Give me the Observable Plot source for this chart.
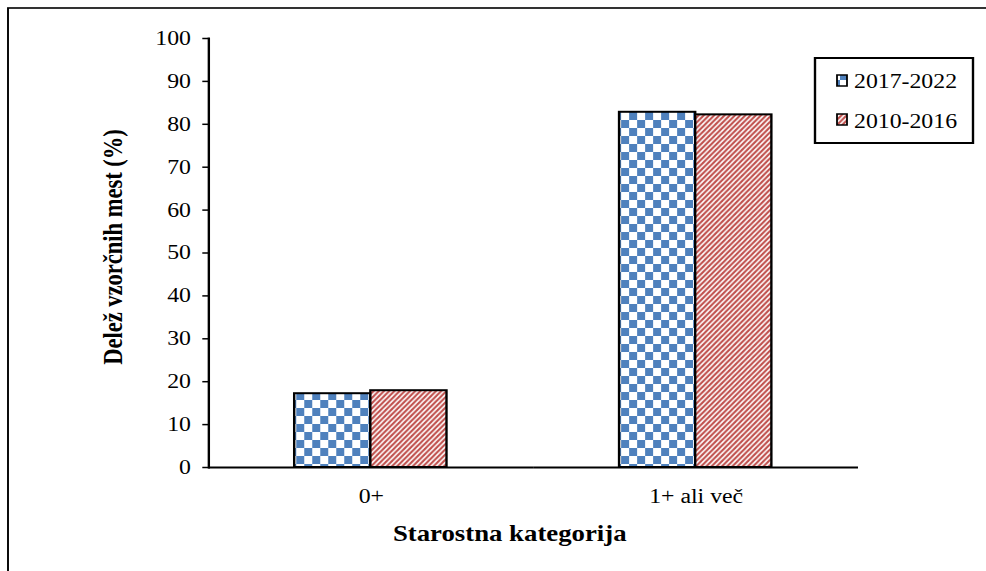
<!DOCTYPE html>
<html><head><meta charset="utf-8">
<script src="https://cdn.jsdelivr.net/npm/d3@7"></script>
<script src="https://cdn.jsdelivr.net/npm/@observablehq/plot@0.6"></script>
<style>
body{margin:0;background:#fff;}
#chart{width:986px;height:571px;overflow:hidden;background:#fff;}
</style></head><body><div id="chart"></div>
<script>
const categories = ["0+", "1+ ali več"];
const series = ["2017-2022", "2010-2016"];
const share2017_2022 = [17.2, 82.8];
const share2010_2016 = [17.9, 82.2];
const yTicks = [0, 10, 20, 30, 40, 50, 60, 70, 80, 90, 100];
const yLabel = "Delež vzorčnih mest (%)";
const xLabel = "Starostna kategorija";

const S = 1.19;           // horizontal stretch of the original picture
const W = 986 / S, H = 571;
const data = categories.flatMap((c, i) => [
  {category: c, series: series[0], value: share2017_2022[i]},
  {category: c, series: series[1], value: share2010_2016[i]}
]);
const patterns = ["url(#checker)", "url(#stripes)"];
const FONT = '"Liberation Serif","Times New Roman",Times,serif';

const svg = Plot.plot({
  width: W, height: H,
  marginLeft: 208 / S, marginRight: (986 - 858) / S, marginTop: 38, marginBottom: 104,
  style: {fontFamily: FONT, fontSize: "20px", color: "#000", background: "transparent", overflow: "visible"},
  fx: {domain: categories, padding: 0},
  x: {domain: series, paddingInner: 0, paddingOuter: 1.124, axis: null},
  y: {domain: [0, 100], axis: null},
  color: {domain: series, range: patterns},
  marks: [
    Plot.barY(data, {fx: "category", x: "series", y: "value", fill: "series", stroke: "#000", strokeWidth: 2}),
    Plot.ruleY([0], {stroke: "#000", strokeWidth: 2}),
    Plot.frame({anchor: "left", facetAnchor: "left", stroke: "#000", strokeWidth: 2}),
    Plot.axisY({ticks: yTicks, tickSize: 5, tickPadding: 10, tickFormat: d => d, stroke: "#000", strokeWidth: 1.5,
      label: yLabel, labelAnchor: "center", labelArrow: "none", labelOffset: 89, fontSize: 20}),
    Plot.axisFx({anchor: "bottom", tickSize: 0, tickPadding: 21, label: xLabel, labelAnchor: "center", labelArrow: "none", labelOffset: 73, fontSize: 20})
  ]
});

const root = d3.select(svg);
const defs = root.insert("defs", ":first-child");
// blue checkerboard
const cw = 8 / S, ch = 8;
const chk = defs.append("pattern").attr("id", "checker").attr("patternUnits", "userSpaceOnUse")
  .attr("width", 2 * cw).attr("height", 2 * ch);
chk.append("rect").attr("width", 2 * cw).attr("height", 2 * ch).attr("fill", "#fff");
chk.append("rect").attr("width", cw).attr("height", ch).attr("fill", "#4F81BD");
chk.append("rect").attr("x", cw).attr("y", ch).attr("width", cw).attr("height", ch).attr("fill", "#4F81BD");
// red diagonal stripes "/"
const sa = 5.2 / S, sb = 5.2;
const str = defs.append("pattern").attr("id", "stripes").attr("patternUnits", "userSpaceOnUse")
  .attr("width", sa).attr("height", sb);
str.append("rect").attr("width", sa).attr("height", sb).attr("fill", "#fff");
str.append("path")
  .attr("d", `M${-sa/2},${sb/2}L${sa/2},${-sb/2}M0,${sb}L${sa},0M${sa/2},${1.5*sb}L${1.5*sa},${sb/2}`)
  .attr("stroke", "#C0504D").attr("stroke-width", 1.9).attr("fill", "none");

// outer border (extends past the picture on the right and bottom)
root.insert("rect", "defs + *").attr("x", 8 / S).attr("y", 8).attr("width", W).attr("height", H)
  .attr("fill", "none").attr("stroke", "#000").attr("stroke-width", 1.6);

// axis titles bold, nudged to where the reference has them
root.selectAll('[aria-label="y-axis label"] text, [aria-label="fx-axis label"] text')
  .attr("font-weight", "bold").attr("font-size", "22.5px");
root.selectAll('[aria-label="fx-axis label"]').attr("transform", function () {
  return (this.getAttribute("transform") || "") + ` translate(${-24 / S},0)`;
});
root.selectAll('[aria-label="y-axis label"]').attr("transform", function () {
  return (this.getAttribute("transform") || "") + " translate(0,-6)";
});

// legend
const lg = root.append("g").attr("aria-label", "legend").attr("font-family", FONT)
  .attr("font-size", "20px").attr("text-anchor", "start");
lg.append("rect").attr("x", 815 / S).attr("y", 58).attr("width", (973 - 815) / S).attr("height", 85)
  .attr("fill", "#fff").attr("stroke", "#000").attr("stroke-width", 2);
series.forEach((s, i) => {
  const y0 = [75, 114][i];
  lg.append("rect").attr("x", 837 / S).attr("y", y0).attr("width", 10 / S).attr("height", 11)
    .attr("fill", patterns[i]).attr("stroke", "#000").attr("stroke-width", 1.5);
  lg.append("text").attr("x", 854 / S).attr("y", [88, 128][i]).attr("fill", "#000")
    .attr("text-anchor", "start").text(s);
});

svg.setAttribute("width", 986);
svg.setAttribute("height", 571);
svg.setAttribute("preserveAspectRatio", "none");
svg.style.width = "986px";
svg.style.height = "571px";
svg.style.maxWidth = "none";
document.getElementById("chart").appendChild(svg);
</script></body></html>
